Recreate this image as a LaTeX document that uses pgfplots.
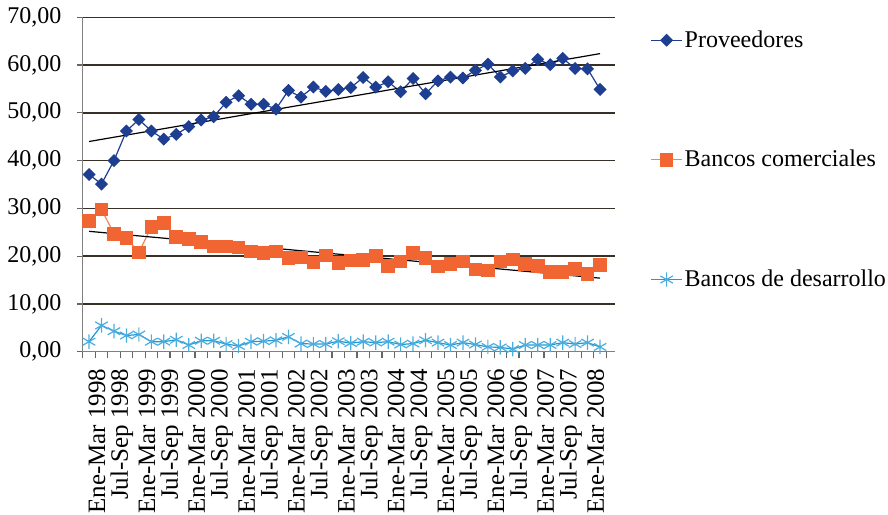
\documentclass[border=0pt]{standalone}
\usepackage{fontspec}
\setmainfont{Liberation Serif}
\usepackage{pgfplots}
\usepackage{pgfplotstable}
\pgfplotsset{compat=1.18}

\definecolor{prov}{RGB}{30,62,146}
\definecolor{banc}{RGB}{241,101,50}
\definecolor{desa}{RGB}{30,152,214}
\definecolor{gridc}{RGB}{55,48,38}

% trimestres: 1 = Ene-Mar 1998 ... 42 = Abr-Jun 2008
\pgfplotstableread{
q  prov  banc  desa
1  37.1  27.3  2.1
2  35.1  29.8  5.5
3  40.0  24.7  4.3
4  46.2  23.8  3.4
5  48.6  20.8  3.6
6  46.2  26.1  2.1
7  44.5  26.9  2.1
8  45.5  24.0  2.5
9  47.1  23.6  1.4
10 48.5  23.0  2.3
11 49.2  22.0  2.3
12 52.2  22.0  1.6
13 53.6  21.8  1.2
14 51.8  21.0  2.1
15 51.8  20.6  2.2
16 50.8  21.0  2.4
17 54.7  19.6  3.1
18 53.3  19.7  1.7
19 55.4  18.7  1.6
20 54.5  20.1  1.6
21 54.9  18.6  2.2
22 55.3  19.1  1.8
23 57.4  19.2  2.1
24 55.4  20.0  1.9
25 56.5  17.9  2.1
26 54.4  18.9  1.5
27 57.2  20.6  1.7
28 54.0  19.6  2.4
29 56.7  17.8  1.9
30 57.5  18.4  1.4
31 57.3  18.9  1.9
32 58.9  17.2  1.5
33 60.2  17.0  1.0
34 57.5  18.9  0.9
35 58.8  19.3  0.55
36 59.3  18.4  1.4
37 61.2  17.9  1.4
38 60.1  16.7  1.4
39 61.4  16.7  1.9
40 59.3  17.3  1.6
41 59.2  16.3  1.9
42 54.9  18.1  1.0
}\datatable

\begin{document}
\begin{tikzpicture}[font=\fontsize{12}{14.4}\selectfont]
\path[use as bounding box] (-41.4pt,-81.15pt) rectangle (402.6pt,175.85pt);
\begin{axis}[
  at={(0pt,0pt)}, anchor=south west,
  scale only axis, width=266.1pt, height=167.2pt,
  xmin=0.5, xmax=43.2, ymin=0, ymax=70,
  axis lines*=left,
  axis line style={draw=gray, line width=0.7pt},
  ytick={0,10,...,70},
  ymajorgrids,
  grid style={draw=gridc, line width=0.75pt},
  xtick={1,3,...,41},
  xticklabels={Ene-Mar 1998, Jul-Sep 1998, Ene-Mar 1999, Jul-Sep 1999,
    Ene-Mar 2000, Jul-Sep 2000, Ene-Mar 2001, Jul-Sep 2001,
    Ene-Mar 2002, Jul-Sep 2002, Ene-Mar 2003, Jul-Sep 2003,
    Ene-Mar 2004, Jul-Sep 2004, Ene-Mar 2005, Jul-Sep 2005,
    Ene-Mar 2006, Jul-Sep 2006, Ene-Mar 2007, Jul-Sep 2007,
    Ene-Mar 2008},
  minor xtick={0.5,1.5,...,42.5},
  every major x tick/.append style={draw=none},
  tick align=outside,
  major tick length=2.7pt,
  minor tick length=3.3pt,
  tick style={draw=gray!80!black, line width=0.6pt},
  yticklabel style={xshift=-4.5pt, font=\fontsize{12}{14.4}\selectfont},
  xticklabel style={xshift=4pt, yshift=-3.5pt, rotate=90, anchor=east,
    inner sep=2pt, font=\fontsize{12.5}{15}\selectfont},
  /pgf/number format/.cd, fixed, fixed zerofill, precision=2, use comma,
    assume math mode=true, /pgfplots/.cd,
  legend style={draw=none, fill=none, at={(1.066,0.968)}, anchor=north west,
    row sep=48pt, inner sep=0pt,
    font=\fontsize{12}{14.4}\selectfont,
    nodes={inner sep=1pt}},
  legend cell align=left,
  legend image code/.code={%
    \draw[#1, mark repeat=2, mark phase=2]
      plot coordinates {(0pt,0pt) (7.75pt,0pt) (15.5pt,0pt)};},
]
\addplot[prov, line width=0.6pt, mark=square*, mark size=2pt,
  mark options={rotate=45, fill=prov, draw=prov}]
  table[x=q, y=prov] {\datatable};
\addlegendentry{Proveedores}
\addplot[banc!80, line width=0.6pt, mark=square*, mark size=3.1pt,
  mark options={fill=banc, draw=banc}]
  table[x=q, y=banc] {\datatable};
\addlegendentry{Bancos comerciales}
\addplot[desa, line width=0.6pt, mark=asterisk, mark size=3.6pt,
  mark options={draw=desa!80, line width=0.6pt}]
  table[x=q, y=desa] {\datatable};
\addlegendentry{Bancos de desarrollo}
% lineas de tendencia
\addplot[black, line width=0.6pt, forget plot] coordinates {(1,44.0) (42,62.4)};
\addplot[black, line width=0.6pt, forget plot] coordinates {(1,25.2) (42,15.4)};
\end{axis}
\end{tikzpicture}
\end{document}
